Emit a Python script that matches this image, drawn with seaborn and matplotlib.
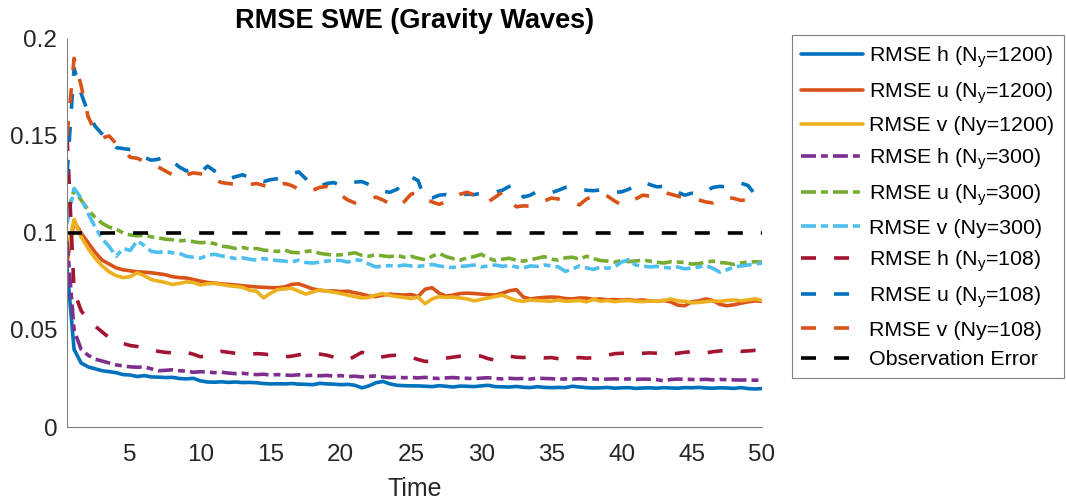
import numpy as np
import pandas as pd
import matplotlib
matplotlib.use("Agg")
import matplotlib.pyplot as plt
import seaborn as sns

# Time axis: assimilation cycles every 0.5 time units
t = np.arange(0.5, 50.01, 0.5)

h_1200 = [0.082, 0.040, 0.033, 0.031, 0.030, 0.029, 0.0285, 0.028, 0.027, 0.0268,
          0.026, 0.0265, 0.0258, 0.0257, 0.0255, 0.0256, 0.025, 0.0248, 0.0251, 0.0238,
          0.0232, 0.0231, 0.0233, 0.0230, 0.0232, 0.0229, 0.0230, 0.0228, 0.0224, 0.0222,
          0.0223, 0.0222, 0.0224, 0.0221, 0.0220, 0.0218, 0.0225, 0.0222, 0.0221, 0.0218,
          0.0220, 0.0215, 0.0202, 0.0212, 0.0228, 0.0235, 0.0222, 0.0215, 0.0213, 0.0212,
          0.0212, 0.0210, 0.0208, 0.0213, 0.0210, 0.0206, 0.0211, 0.0210, 0.0208, 0.0212,
          0.0215, 0.0208, 0.0207, 0.0206, 0.0209, 0.0205, 0.0203, 0.0208, 0.0204, 0.0203,
          0.0204, 0.0203, 0.0210, 0.0206, 0.0203, 0.0201, 0.0202, 0.0204, 0.0200, 0.0202,
          0.0203, 0.0199, 0.0201, 0.0202, 0.0200, 0.0203, 0.0201, 0.0200, 0.0203, 0.0202,
          0.0204, 0.0201, 0.0200, 0.0202, 0.0201, 0.0199, 0.0203, 0.0198, 0.0196, 0.0198]

u_1200 = [0.085, 0.106, 0.100, 0.095, 0.090, 0.086, 0.084, 0.082, 0.081, 0.0805,
          0.0800, 0.0798, 0.0795, 0.0790, 0.0785, 0.0775, 0.0770, 0.0768, 0.0760, 0.0752,
          0.0745, 0.0742, 0.0738, 0.0735, 0.0732, 0.0728, 0.0725, 0.0722, 0.0720, 0.0718,
          0.0718, 0.0722, 0.0735, 0.0738, 0.0725, 0.0712, 0.0705, 0.0700, 0.0702, 0.0698,
          0.0700, 0.0692, 0.0685, 0.0675, 0.0672, 0.0680, 0.0685, 0.0682, 0.0680, 0.0683,
          0.0672, 0.0710, 0.0718, 0.0690, 0.0675, 0.0680, 0.0688, 0.0690, 0.0688, 0.0685,
          0.0682, 0.0680, 0.0690, 0.0702, 0.0708, 0.0670, 0.0660, 0.0665, 0.0668, 0.0670,
          0.0668, 0.0662, 0.0660, 0.0665, 0.0664, 0.0658, 0.0660, 0.0655, 0.0657, 0.0654,
          0.0656, 0.0652, 0.0655, 0.0650, 0.0648, 0.0652, 0.0645, 0.0628, 0.0625, 0.0645,
          0.0650, 0.0660, 0.0652, 0.0632, 0.0625, 0.0630, 0.0638, 0.0645, 0.0650, 0.0648]

v_1200 = [0.090, 0.107, 0.098, 0.092, 0.087, 0.083, 0.080, 0.078, 0.077, 0.0775,
          0.0795, 0.0780, 0.0760, 0.0752, 0.0745, 0.0735, 0.0740, 0.0748, 0.0745, 0.0732,
          0.0738, 0.0740, 0.0735, 0.0728, 0.0725, 0.0720, 0.0705, 0.0700, 0.0665, 0.0690,
          0.0708, 0.0712, 0.0715, 0.0700, 0.0685, 0.0695, 0.0708, 0.0700, 0.0695, 0.0688,
          0.0680, 0.0672, 0.0665, 0.0668, 0.0680, 0.0688, 0.0678, 0.0672, 0.0668, 0.0662,
          0.0670, 0.0635, 0.0660, 0.0672, 0.0668, 0.0670, 0.0665, 0.0660, 0.0650, 0.0658,
          0.0665, 0.0672, 0.0680, 0.0665, 0.0652, 0.0648, 0.0655, 0.0652, 0.0650, 0.0648,
          0.0655, 0.0648, 0.0650, 0.0652, 0.0645, 0.0658, 0.0648, 0.0652, 0.0646, 0.0650,
          0.0652, 0.0648, 0.0646, 0.0650, 0.0648, 0.0652, 0.0660, 0.0650, 0.0648, 0.0640,
          0.0642, 0.0646, 0.0650, 0.0648, 0.0652, 0.0655, 0.0650, 0.0655, 0.0660, 0.0652]

h_300 = [0.096, 0.050, 0.040, 0.037, 0.035, 0.034, 0.033, 0.032, 0.0315, 0.031,
         0.0308, 0.0310, 0.0300, 0.0290, 0.0292, 0.0295, 0.0290, 0.0288, 0.0282, 0.0285,
         0.0283, 0.0280, 0.0282, 0.0278, 0.0275, 0.0277, 0.0273, 0.0270, 0.0272, 0.0268,
         0.0270, 0.0268, 0.0266, 0.0269, 0.0265, 0.0267, 0.0264, 0.0266, 0.0262, 0.0265,
         0.0260, 0.0262, 0.0258, 0.0261, 0.0263, 0.0258, 0.0255, 0.0257, 0.0254, 0.0256,
         0.0253, 0.0256, 0.0252, 0.0250, 0.0253, 0.0255, 0.0252, 0.0251, 0.0249, 0.0252,
         0.0254, 0.0250, 0.0248, 0.0251, 0.0249, 0.0250, 0.0247, 0.0252, 0.0250, 0.0249,
         0.0246, 0.0248, 0.0247, 0.0249, 0.0246, 0.0248, 0.0245, 0.0247, 0.0248, 0.0246,
         0.0248, 0.0245, 0.0247, 0.0246, 0.0244, 0.0238, 0.0245, 0.0247, 0.0246, 0.0245,
         0.0244, 0.0246, 0.0243, 0.0245, 0.0244, 0.0243, 0.0242, 0.0243, 0.0241, 0.0242]

u_300 = [0.110, 0.122, 0.117, 0.112, 0.108, 0.105, 0.103, 0.102, 0.100, 0.099,
         0.0985, 0.0990, 0.0980, 0.0975, 0.0968, 0.0965, 0.0960, 0.0962, 0.0955, 0.0950,
         0.0952, 0.0945, 0.0932, 0.0928, 0.0920, 0.0925, 0.0918, 0.0920, 0.0912, 0.0908,
         0.0905, 0.0912, 0.0900, 0.0898, 0.0905, 0.0908, 0.0895, 0.0890, 0.0885, 0.0888,
         0.0892, 0.0898, 0.0885, 0.0880, 0.0888, 0.0882, 0.0878, 0.0885, 0.0875, 0.0880,
         0.0870, 0.0862, 0.0880, 0.0895, 0.0878, 0.0868, 0.0860, 0.0872, 0.0878, 0.0890,
         0.0870, 0.0858, 0.0865, 0.0870, 0.0860, 0.0855, 0.0862, 0.0870, 0.0878, 0.0865,
         0.0860, 0.0872, 0.0875, 0.0865, 0.0880, 0.0868, 0.0858, 0.0855, 0.0850, 0.0858,
         0.0852, 0.0856, 0.0860, 0.0855, 0.0850, 0.0845, 0.0852, 0.0850, 0.0848, 0.0840,
         0.0842, 0.0850, 0.0855, 0.0848, 0.0845, 0.0838, 0.0845, 0.0850, 0.0852, 0.0850]

v_300 = [0.105, 0.123, 0.118, 0.110, 0.103, 0.097, 0.093, 0.088, 0.092, 0.091,
         0.0960, 0.0935, 0.0905, 0.0900, 0.0905, 0.0898, 0.0895, 0.0880, 0.0875, 0.0870,
         0.0885, 0.0890, 0.0882, 0.0875, 0.0868, 0.0872, 0.0865, 0.0860, 0.0868, 0.0862,
         0.0858, 0.0855, 0.0850, 0.0860, 0.0848, 0.0845, 0.0850, 0.0855, 0.0860, 0.0858,
         0.0850, 0.0862, 0.0858, 0.0840, 0.0825, 0.0830, 0.0832, 0.0828, 0.0835, 0.0830,
         0.0828, 0.0832, 0.0838, 0.0830, 0.0825, 0.0822, 0.0828, 0.0830, 0.0835, 0.0825,
         0.0830, 0.0835, 0.0828, 0.0832, 0.0825, 0.0820, 0.0830, 0.0828, 0.0835, 0.0830,
         0.0825, 0.0802, 0.0815, 0.0830, 0.0820, 0.0812, 0.0825, 0.0818, 0.0825, 0.0850,
         0.0862, 0.0835, 0.0830, 0.0825, 0.0828, 0.0822, 0.0820, 0.0825, 0.0815, 0.0820,
         0.0825, 0.0832, 0.0818, 0.0798, 0.0810, 0.0825, 0.0830, 0.0835, 0.0840, 0.0845]

h_108 = [0.150, 0.070, 0.060, 0.055, 0.052, 0.049, 0.046, 0.044, 0.043, 0.042,
         0.0415, 0.0405, 0.0398, 0.0390, 0.0385, 0.0382, 0.0378, 0.0385, 0.0375, 0.0362,
         0.0368, 0.0380, 0.0390, 0.0385, 0.0380, 0.0378, 0.0375, 0.0378, 0.0376, 0.0372,
         0.0368, 0.0362, 0.0365, 0.0372, 0.0378, 0.0380, 0.0376, 0.0370, 0.0360, 0.0350,
         0.0345, 0.0365, 0.0385, 0.0375, 0.0358, 0.0362, 0.0368, 0.0370, 0.0368, 0.0360,
         0.0348, 0.0338, 0.0340, 0.0348, 0.0355, 0.0360, 0.0365, 0.0368, 0.0370, 0.0365,
         0.0352, 0.0345, 0.0355, 0.0365, 0.0360, 0.0358, 0.0362, 0.0360, 0.0356, 0.0358,
         0.0352, 0.0348, 0.0355, 0.0358, 0.0355, 0.0357, 0.0362, 0.0370, 0.0378, 0.0380,
         0.0382, 0.0378, 0.0380, 0.0382, 0.0380, 0.0378, 0.0375, 0.0380, 0.0385, 0.0388,
         0.0386, 0.0382, 0.0388, 0.0392, 0.0396, 0.0394, 0.0390, 0.0392, 0.0395, 0.0392]

u_108 = [0.130, 0.185, 0.172, 0.162, 0.155, 0.151, 0.147, 0.144, 0.1435, 0.143,
         0.1410, 0.1390, 0.1375, 0.1380, 0.1395, 0.1370, 0.1340, 0.1320, 0.1330, 0.1310,
         0.1345, 0.1320, 0.1300, 0.1280, 0.1290, 0.1300, 0.1285, 0.1270, 0.1265, 0.1275,
         0.1280, 0.1290, 0.1305, 0.1315, 0.1280, 0.1250, 0.1240, 0.1255, 0.1260, 0.1245,
         0.1255, 0.1262, 0.1265, 0.1250, 0.1235, 0.1215, 0.1210, 0.1225, 0.1260, 0.1290,
         0.1270, 0.1175, 0.1180, 0.1195, 0.1198, 0.1190, 0.1195, 0.1200, 0.1198, 0.1205,
         0.1205, 0.1210, 0.1220, 0.1240, 0.1250, 0.1185, 0.1195, 0.1215, 0.1210, 0.1208,
         0.1220, 0.1235, 0.1240, 0.1230, 0.1220, 0.1218, 0.1222, 0.1215, 0.1210, 0.1212,
         0.1225, 0.1245, 0.1262, 0.1250, 0.1238, 0.1240, 0.1232, 0.1210, 0.1195, 0.1205,
         0.1198, 0.1215, 0.1235, 0.1240, 0.1238, 0.1250, 0.1257, 0.1245, 0.1200, 0.1180]

v_108 = [0.150, 0.190, 0.176, 0.160, 0.152, 0.149, 0.150, 0.146, 0.143, 0.139,
         0.1385, 0.1370, 0.1355, 0.1340, 0.1320, 0.1300, 0.1280, 0.1300, 0.1310, 0.1305,
         0.1300, 0.1275, 0.1260, 0.1255, 0.1250, 0.1245, 0.1250, 0.1255, 0.1245, 0.1235,
         0.1240, 0.1255, 0.1245, 0.1225, 0.1210, 0.1220, 0.1235, 0.1240, 0.1225, 0.1195,
         0.1170, 0.1155, 0.1165, 0.1175, 0.1185, 0.1170, 0.1150, 0.1135, 0.1160, 0.1200,
         0.1210, 0.1180, 0.1160, 0.1148, 0.1160, 0.1185, 0.1200, 0.1210, 0.1195, 0.1175,
         0.1160, 0.1185, 0.1210, 0.1170, 0.1135, 0.1140, 0.1138, 0.1145, 0.1165, 0.1180,
         0.1175, 0.1165, 0.1155, 0.1145, 0.1175, 0.1190, 0.1205, 0.1190, 0.1165, 0.1145,
         0.1150, 0.1175, 0.1195, 0.1190, 0.1200, 0.1210, 0.1200, 0.1190, 0.1180, 0.1175,
         0.1170, 0.1160, 0.1155, 0.1175, 0.1185, 0.1178, 0.1168, 0.1172, 0.1175, 0.1178]

obs_error = 0.1

labels = [r"RMSE h (N$\mathregular{_y}$=1200)", r"RMSE u (N$\mathregular{_y}$=1200)",
          "RMSE v (Ny=1200)",
          r"RMSE h (N$\mathregular{_y}$=300)", r"RMSE u (N$\mathregular{_y}$=300)",
          "RMSE v (Ny=300)",
          r"RMSE h (N$\mathregular{_y}$=108)", r"RMSE u (N$\mathregular{_y}$=108)",
          "RMSE v (Ny=108)", "Observation Error"]

sns.set_theme(style="white")
plt.rcParams["font.family"] = ["Liberation Sans", "DejaVu Sans"]
plt.rcParams["mathtext.default"] = "regular"

LW = 2.6
solid = "-"
dashdot = (0, (4.15, 1.4, 1.9, 1.4))
dashed = (0, (4.15, 5.0))

series = [
    (h_1200, "#0072BD", solid),
    (u_1200, "#D95319", solid),
    (v_1200, "#EDB120", solid),
    (h_300, "#7E2F8E", dashdot),
    (u_300, "#77AC30", dashdot),
    (v_300, "#4DBEEE", dashdot),
    (h_108, "#A2142F", dashed),
    (u_108, "#0072BD", dashed),
    (v_108, "#D95319", dashed),
]

fig = plt.figure(figsize=(10.66, 5.01), dpi=100)
ax = fig.add_axes([0.0629, 0.1477, 0.6519, 0.7745])

for (vals, color, ls), lab in zip(series, labels):
    df = pd.DataFrame({"Time": t, "RMSE": vals})
    sns.lineplot(data=df, x="Time", y="RMSE", ax=ax, color=color,
                 linestyle=ls, linewidth=LW, label=lab)

obs_df = pd.DataFrame({"Time": t, "RMSE": np.full(len(t), obs_error)})
sns.lineplot(data=obs_df, x="Time", y="RMSE", ax=ax, color="black",
             linestyle=dashed, linewidth=LW, label=labels[-1])

ax.set_xlim(0.5, 50)
ax.set_ylim(0, 0.2)
ax.set_xticks([5, 10, 15, 20, 25, 30, 35, 40, 45, 50])
ax.set_yticks([0, 0.05, 0.1, 0.15, 0.2])
ax.set_yticklabels(["0", "0.05", "0.1", "0.15", "0.2"])

axis_gray = "#262626"
for side in ["top", "right"]:
    ax.spines[side].set_visible(False)
for side in ["left", "bottom"]:
    ax.spines[side].set_color("#808080")
    ax.spines[side].set_linewidth(0.8)
ax.tick_params(axis="both", direction="in", length=5, width=0.8,
               color="#808080", labelcolor=axis_gray, labelsize=17.5, pad=7)
ax.tick_params(axis="x", pad=12)

ax.set_xlabel("Time", fontsize=18, color=axis_gray, labelpad=8)
ax.set_ylabel("")
ax.set_title("RMSE SWE (Gravity Waves)", fontsize=19.5, fontweight="bold",
             color="black", pad=8)

leg = ax.legend(loc="upper left", bbox_to_anchor=(0.743, 0.930),
                bbox_transform=fig.transFigure, fontsize=15.4, frameon=True,
                fancybox=False, edgecolor="#808080", framealpha=1,
                handlelength=2.9, handletextpad=0.3, borderpad=0.42,
                labelspacing=0.5, borderaxespad=0)
leg.get_frame().set_linewidth(0.8)
for txt in leg.get_texts():
    txt.set_color("black")

fig.savefig("out.png", dpi=100)
